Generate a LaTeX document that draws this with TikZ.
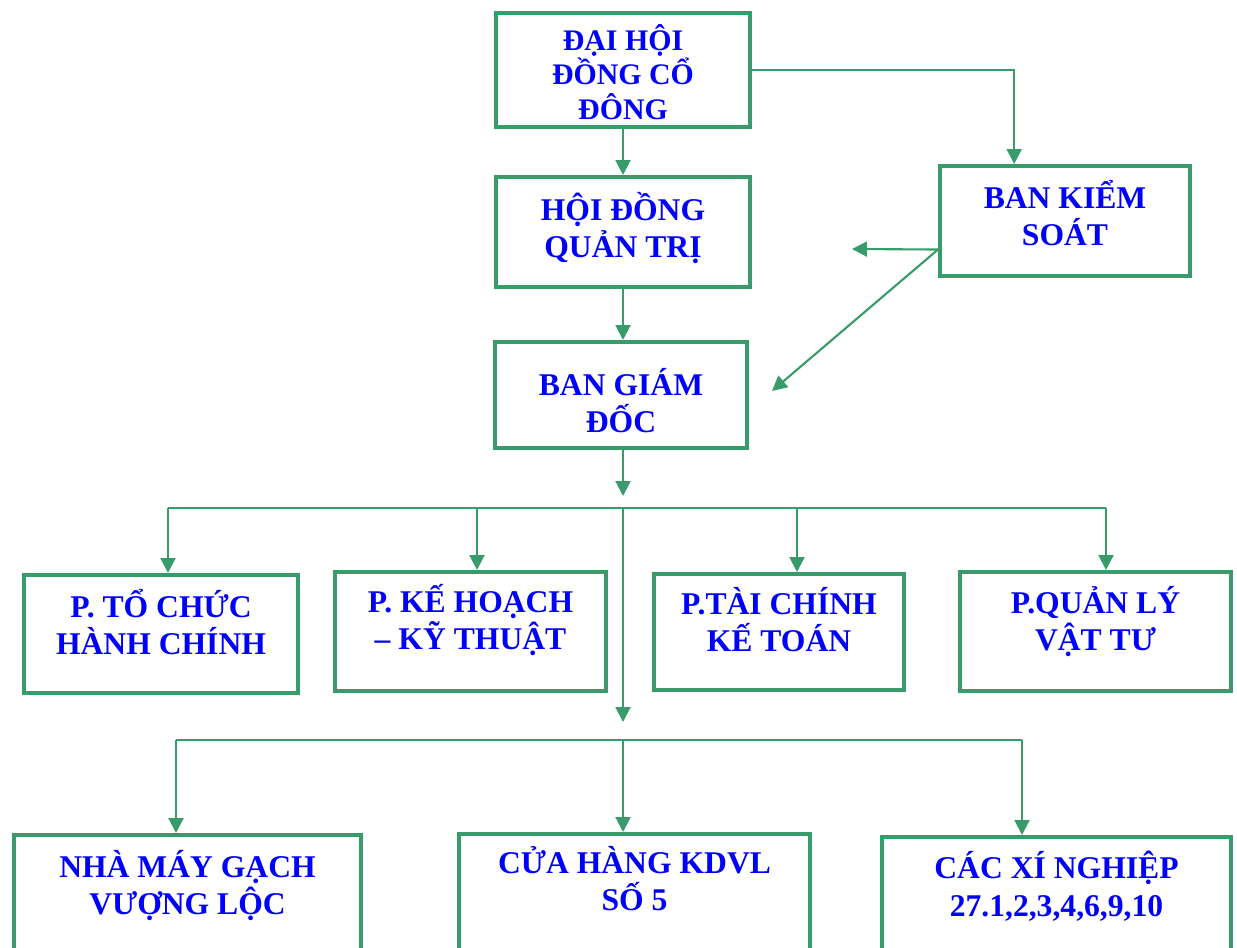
\documentclass[tikz,border=0pt]{standalone}
\usepackage{fontspec}
\setmainfont{Liberation Serif}
\usepackage{tikz}
\usetikzlibrary{calc}
\usetikzlibrary{positioning}
\usetikzlibrary{arrows.meta}

\definecolor{grn}{RGB}{56,155,106}
\definecolor{txtblue}{RGB}{0,0,250}
\newcommand{\topstrut}{\rule{0pt}{20pt}}

\begin{document}
\begin{tikzpicture}[x=0.02cm,y=-0.02cm,
box/.style={draw=grn,line width=2.3pt,fill=white},
lbl/.style={text=txtblue,font=\bfseries\fontsize{18}{21.5}\selectfont,align=center,inner sep=0pt},
link/.style={draw=grn,line width=1.2pt},
arr/.style={link,-{Triangle[width=8.5pt,length=8.5pt]}}]

\path[fill=white,use as bounding box] (0,0) rectangle (1237,947);

\node[box,minimum width=5.08cm,minimum height=2.28cm] (dhcd) at (623,70) {};
\node[box,minimum width=5.08cm,minimum height=2.2cm] (hdqt) at (623,232) {};
\node[box,minimum width=5cm,minimum height=2.2cm] (bks) at (1065,221) {};
\node[box,minimum width=5.04cm,minimum height=2.12cm] (bgd) at (621,395) {};

\node[box,minimum width=5.48cm,minimum height=2.36cm] (tchc) at (161,634) {};
\node[box,minimum width=5.42cm,minimum height=2.38cm] (khkt) at (470.5,631.5) {};
\node[box,minimum width=5cm,minimum height=2.32cm] (tckt) at (779,632) {};
\node[box,minimum width=5.42cm,minimum height=2.38cm] (qlvt) at (1095.5,631.5) {};

\node[box,minimum width=6.94cm,minimum height=3.3cm] (nmg) at (187.5,917.5) {};
\node[box,minimum width=7.02cm,minimum height=3.32cm] (chvl) at (634.5,917) {};
\node[box,minimum width=6.98cm,minimum height=3.26cm] (xnghiep) at (1056.5,918.5) {};

\node[lbl,font=\bfseries\fontsize{17}{19.8}\selectfont,below=2.1pt of dhcd.north] (dhcdt) {\topstrut ĐẠI HỘI\\ĐỒNG CỔ\\ĐÔNG};
\node[lbl,below=5.5pt of hdqt.north] (hdqtt) {\topstrut HỘI ĐỒNG\\QUẢN TRỊ};
\node[lbl,below=4.9pt of bks.north] (bkst) {\topstrut BAN KIỂM\\SOÁT};
\node[lbl,below=11.2pt of bgd.north] (bgdt) {\topstrut BAN GIÁM\\ĐỐC};

\node[lbl,below=4.9pt of tchc.north] (tchct) {\topstrut P. TỔ CHỨC\\HÀNH CHÍNH};
\node[lbl,below=3.8pt of khkt.north] (khktt) {\topstrut P. KẾ HOẠCH\\– KỸ THUẬT};
\node[lbl,below=3.8pt of tckt.north] (tcktt) {\topstrut P.TÀI CHÍNH\\KẾ TOÁN};
\node[lbl,below=4.4pt of qlvt.north] (qlvtt) {\topstrut P.QUẢN LÝ\\VẬT TƯ};

\node[lbl,below=4.9pt of nmg.north] (nmgt) {\topstrut NHÀ MÁY GẠCH\\VƯỢNG LỘC};
\node[lbl,below=3.2pt of chvl.north] (chvlt) {\topstrut CỬA HÀNG KDVL\\SỐ 5};
\node[lbl,below=4.4pt of xnghiep.north] (xnghiept) {\topstrut CÁC XÍ NGHIỆP\\27.1,2,3,4,6,9,10};

\coordinate (k1) at ($(bks.north west)!0.3!(bks.north east)$);
\coordinate (kl) at ($(bks.north west)!0.75!(bks.south west)$);
\coordinate (a1) at (852,249);
\coordinate (a2) at (772,391);
\coordinate (t1) at (623,496);
\coordinate (sp) at (623,508);
\coordinate (t2) at (623,722);

\coordinate (b1) at (168,508);
\coordinate (b2) at (477,508);
\coordinate (b3) at (797,508);
\coordinate (b4) at (1106,508);

\coordinate (c1) at (176,740);
\coordinate (c2) at (623,740);
\coordinate (c3) at (1022,740);

\draw[arr] (dhcd) -- (hdqt);
\draw[arr] (dhcd.east) -| (k1);
\draw[arr] (hdqt.south) -- (hdqt.south |- bgd.north);
\draw[arr] (kl) -- (a1);
\draw[arr] (kl) -- (a2);
\draw[arr] (bgd.south -| t1) -- (t1);

\draw[link] (b1) -- (b4);
\draw[arr] (b1) -- (b1 |- tchc.north);
\draw[arr] (b2) -- (b2 |- khkt.north);
\draw[arr] (b3) -- (b3 |- tckt.north);
\draw[arr] (b4) -- (b4 |- qlvt.north);
\draw[arr] (sp) -- (t2);

\draw[link] (c1) -- (c3);
\draw[arr] (c1) -- (c1 |- nmg.north);
\draw[arr] (c2) -- (c2 |- chvl.north);
\draw[arr] (c3) -- (c3 |- xnghiep.north);

\end{tikzpicture}
\end{document}
